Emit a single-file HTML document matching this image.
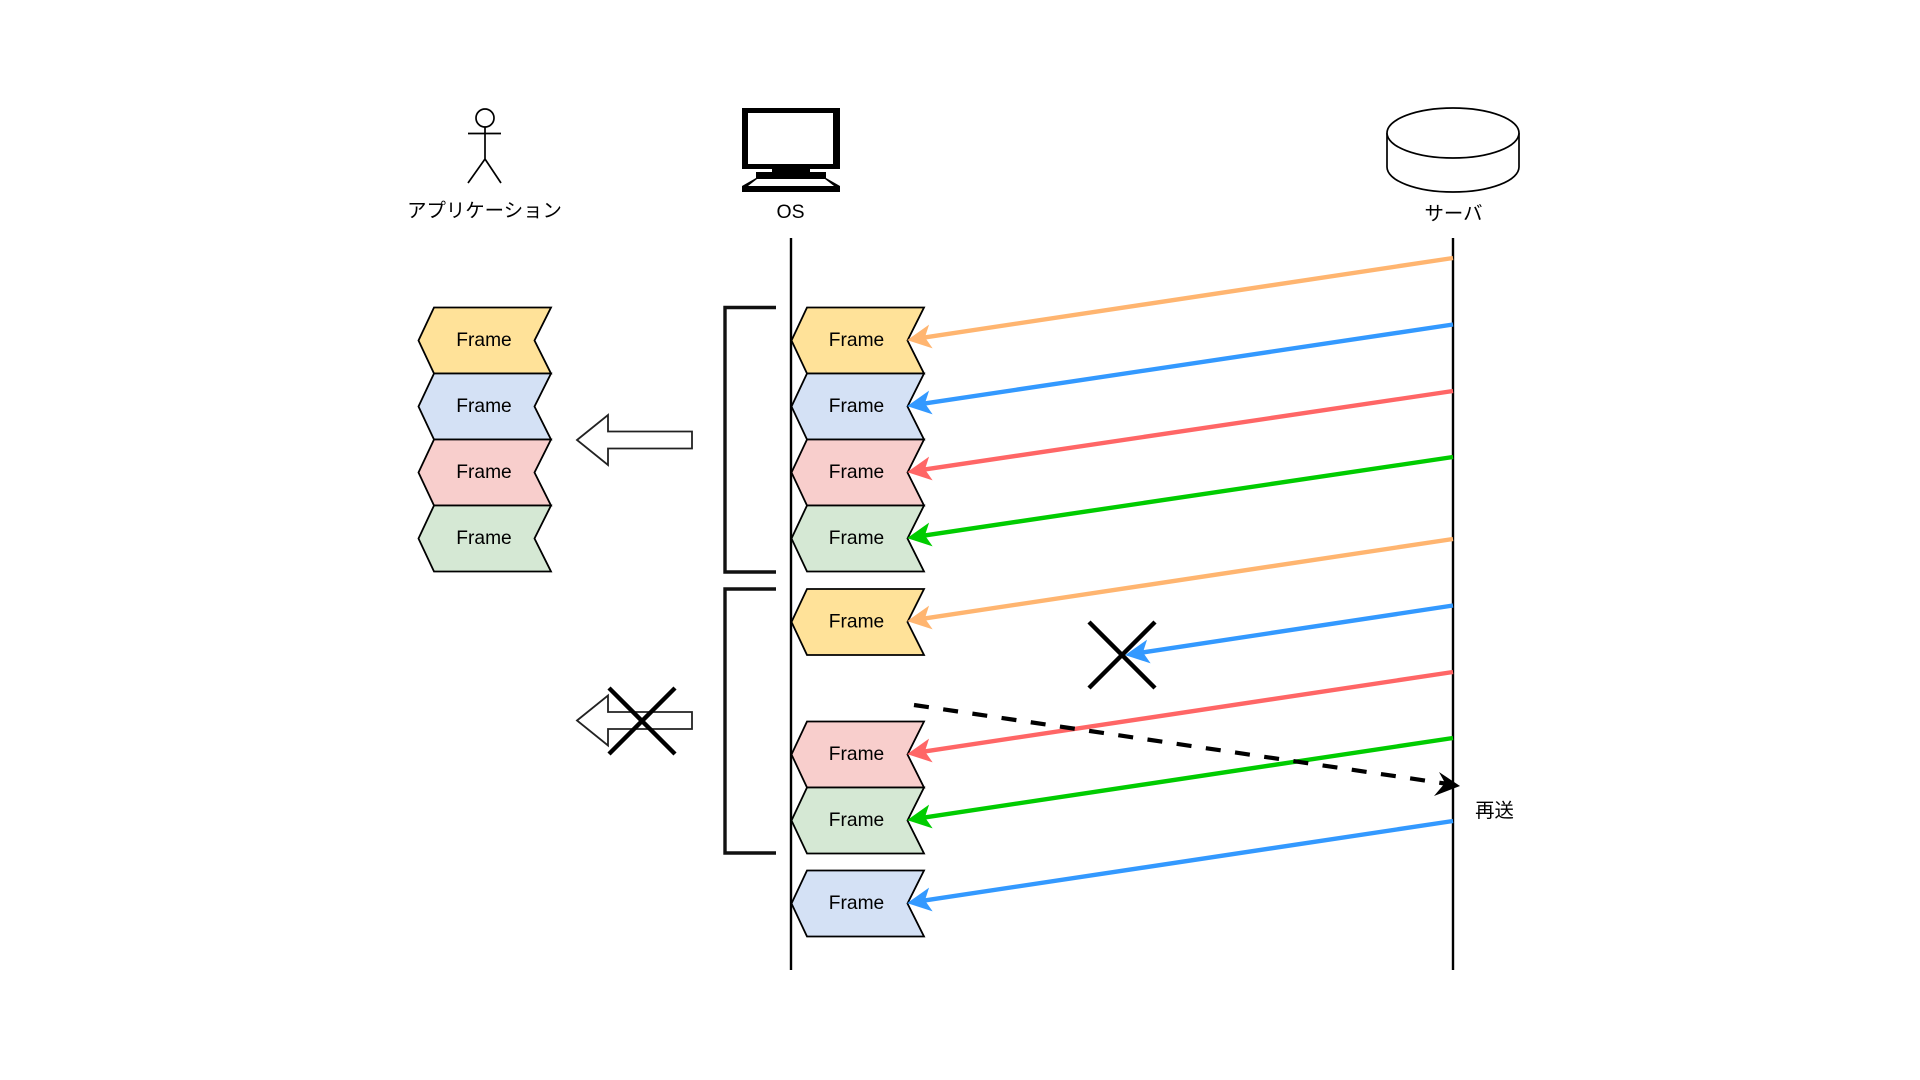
<!DOCTYPE html>
<html lang="ja">
<head>
<meta charset="utf-8">
<title>Diagram</title>
<style>
html,body{margin:0;padding:0;background:#fff;width:1920px;height:1080px;overflow:hidden}
svg{display:block;filter:blur(0.35px)}
text{font-family:"Liberation Sans","Noto Sans CJK JP",sans-serif;fill:#000;text-anchor:middle}
.f{font-size:19.2px}
.j{font-size:19.4px}
.lane{stroke:#000;stroke-width:2.4;fill:none}
.br{stroke:#111;stroke-width:3.4;fill:none}
.x{stroke:#000;stroke-width:4.4;stroke-linecap:butt;fill:none}
.c{stroke-width:4.4;fill:none}
.fr{stroke:#000;stroke-width:1.8}
.ha{fill:#fff;stroke:#222;stroke-width:1.8}
</style>
</head>
<body>
<svg width="1920" height="1080" viewBox="0 0 1920 1080" xmlns="http://www.w3.org/2000/svg">
<defs>
<marker id="mo" markerUnits="userSpaceOnUse" markerWidth="30" markerHeight="30" viewBox="0 -15 30 30" refX="12" refY="0" orient="auto"><path d="M0,-12 L24,0 L0,12 L6,0 Z" fill="#FFB570"/></marker>
<marker id="mb" markerUnits="userSpaceOnUse" markerWidth="30" markerHeight="30" viewBox="0 -15 30 30" refX="12" refY="0" orient="auto"><path d="M0,-12 L24,0 L0,12 L6,0 Z" fill="#3399FF"/></marker>
<marker id="mr" markerUnits="userSpaceOnUse" markerWidth="30" markerHeight="30" viewBox="0 -15 30 30" refX="12" refY="0" orient="auto"><path d="M0,-12 L24,0 L0,12 L6,0 Z" fill="#FF6666"/></marker>
<marker id="mg" markerUnits="userSpaceOnUse" markerWidth="30" markerHeight="30" viewBox="0 -15 30 30" refX="12" refY="0" orient="auto"><path d="M0,-12 L24,0 L0,12 L6,0 Z" fill="#00CC00"/></marker>
<path id="ch" d="M15.5,0 H132.500 L116,33 L132.500,66 H15.5 L0,33 Z"/>
</defs>

<!-- actor -->
<g fill="none" stroke="#000" stroke-width="1.7">
<circle cx="485" cy="118" r="9"/>
<path d="M485,127 V159 M468,133.500 H501 M468,183 L485,159 L501,183"/>
</g>
<text class="j" x="484.500" y="217">アプリケーション</text>

<!-- computer -->
<path fill-rule="evenodd" fill="#000" d="M742,108 H840 V169 H742 Z M748,113 V164 H833 V113 Z"/>
<path fill="#000" d="M772,169 H810 V172 H826 V178 L840,186 V192 H742 V186 L756,178 V172 H772 Z"/>
<path fill="#fff" d="M757,179 H825 L834,186 H748 Z"/>
<text class="j" x="790.500" y="218">OS</text>

<!-- cylinder -->
<g fill="#fff" stroke="#000" stroke-width="1.7">
<path d="M1387,133 V167 A66,25 0 0 0 1519,167 V133"/>
<ellipse cx="1453" cy="133" rx="66" ry="25"/>
</g>
<text class="j" x="1453.500" y="220">サーバ</text>

<!-- left frames -->
<g transform="translate(418.500,307.500)"><use href="#ch" class="fr" fill="#FFE299"/></g>
<g transform="translate(418.500,373.500)"><use href="#ch" class="fr" fill="#D4E1F5"/></g>
<g transform="translate(418.500,439.500)"><use href="#ch" class="fr" fill="#F8CECC"/></g>
<g transform="translate(418.500,505.500)"><use href="#ch" class="fr" fill="#D5E8D4"/></g>
<text class="f" x="484" y="346">Frame</text>
<text class="f" x="484" y="412">Frame</text>
<text class="f" x="484" y="478">Frame</text>
<text class="f" x="484" y="544">Frame</text>

<!-- lifelines -->
<path class="lane" d="M791,238 V970"/>
<path class="lane" d="M1453,238 V970"/>

<!-- right frames -->
<g transform="translate(791.500,307.500)"><use href="#ch" class="fr" fill="#FFE299"/></g>
<g transform="translate(791.500,373.500)"><use href="#ch" class="fr" fill="#D4E1F5"/></g>
<g transform="translate(791.500,439.500)"><use href="#ch" class="fr" fill="#F8CECC"/></g>
<g transform="translate(791.500,505.500)"><use href="#ch" class="fr" fill="#D5E8D4"/></g>
<g transform="translate(791.500,589)"><use href="#ch" class="fr" fill="#FFE299"/></g>
<g transform="translate(791.500,721.500)"><use href="#ch" class="fr" fill="#F8CECC"/></g>
<g transform="translate(791.500,787.500)"><use href="#ch" class="fr" fill="#D5E8D4"/></g>
<g transform="translate(791.500,870.500)"><use href="#ch" class="fr" fill="#D4E1F5"/></g>
<text class="f" x="856.500" y="346">Frame</text>
<text class="f" x="856.500" y="412">Frame</text>
<text class="f" x="856.500" y="478">Frame</text>
<text class="f" x="856.500" y="544">Frame</text>
<text class="f" x="856.500" y="627.500">Frame</text>
<text class="f" x="856.500" y="760">Frame</text>
<text class="f" x="856.500" y="826">Frame</text>
<text class="f" x="856.500" y="909">Frame</text>

<!-- brackets -->
<path class="br" d="M776,307.500 H725 V572 H776"/>
<path class="br" d="M776,589 H725 V853 H776"/>

<!-- hollow arrows -->
<path class="ha" d="M577,440 L608,415 V431.500 H692 V448.500 H608 V465 Z"/>
<path class="ha" d="M577,720.500 L608,695.500 V712 H692 V729 H608 V745.500 Z"/>

<!-- colored connectors -->
<path class="c" stroke="#FFB570" marker-end="url(#mo)" d="M1453,258 L919,338.300"/>
<path class="c" stroke="#3399FF" marker-end="url(#mb)" d="M1453,324.500 L919,404.300"/>
<path class="c" stroke="#FF6666" marker-end="url(#mr)" d="M1453,391 L919,470.300"/>
<path class="c" stroke="#00CC00" marker-end="url(#mg)" d="M1453,457 L919,536.300"/>
<path class="c" stroke="#FFB570" marker-end="url(#mo)" d="M1453,539 L919,619.300"/>
<path class="c" stroke="#3399FF" marker-end="url(#mb)" d="M1453,605.500 L1137,653.300"/>
<path class="c" stroke="#FF6666" marker-end="url(#mr)" d="M1453,672 L919,752.300"/>
<path class="c" stroke="#00CC00" marker-end="url(#mg)" d="M1453,738 L919,818.300"/>
<path class="c" stroke="#3399FF" marker-end="url(#mb)" d="M1453,821 L919,901.300"/>

<!-- X marks -->
<path class="x" d="M1089,622 L1155,688 M1155,622 L1089,688"/>
<path class="x" d="M609,688 L675,754 M675,688 L609,754"/>

<!-- dashed -->
<path d="M914,705 L1445,783.500" stroke="#000" stroke-width="4.2" stroke-dasharray="15 14.500" fill="none"/>
<path d="M1460,786 L1439,772 L1445,783 L1434,796 Z" fill="#000"/>
<text class="j" x="1494.500" y="817">再送</text>
</svg>
</body>
</html>
